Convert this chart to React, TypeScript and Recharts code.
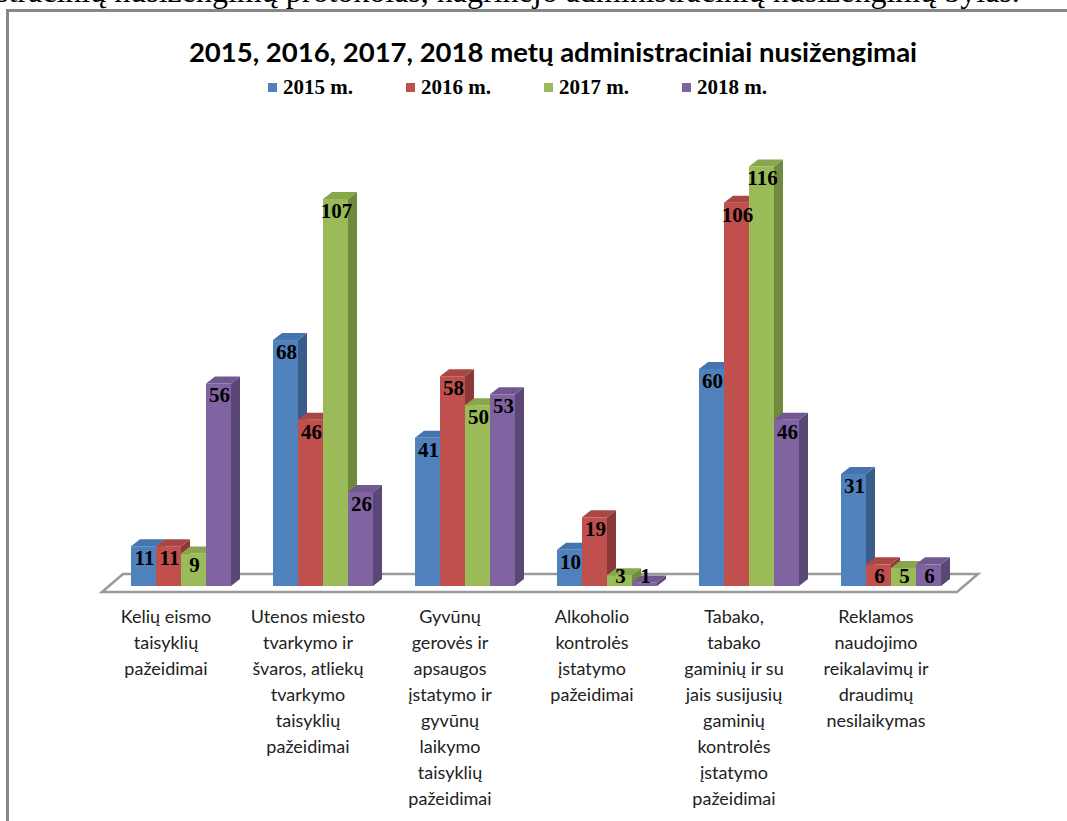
import { Bar, BarChart, XAxis, YAxis } from "recharts";

const categories = [
  "Kelių eismo\ntaisyklių\npažeidimai",
  "Utenos miesto\ntvarkymo ir\nšvaros, atliekų\ntvarkymo\ntaisyklių\npažeidimai",
  "Gyvūnų\ngerovės ir\napsaugos\nįstatymo ir\ngyvūnų\nlaikymo\ntaisyklių\npažeidimai",
  "Alkoholio\nkontrolės\nįstatymo\npažeidimai",
  "Tabako,\ntabako\ngaminių ir su\njais susijusių\ngaminių\nkontrolės\nįstatymo\npažeidimai",
  "Reklamos\nnaudojimo\nreikalavimų ir\ndraudimų\nnesilaikymas",
];

const v2015 = [11, 68, 41, 10, 60, 31];
const v2016 = [11, 46, 58, 19, 106, 6];
const v2017 = [9, 107, 50, 3, 116, 5];
const v2018 = [56, 26, 53, 1, 46, 6];

const SERIES = [
  { key: "y2015", label: "2015 m.", front: "#4F81BD", top: "#4674AE", side: "#385D8A" },
  { key: "y2016", label: "2016 m.", front: "#C0504D", top: "#A94744", side: "#8C3836" },
  { key: "y2017", label: "2017 m.", front: "#9BBB59", top: "#88A64C", side: "#71893F" },
  { key: "y2018", label: "2018 m.", front: "#8064A2", top: "#715891", side: "#5B4776" },
];

const data = categories.map((name, i) => ({
  name,
  y2015: v2015[i],
  y2016: v2016[i],
  y2017: v2017[i],
  y2018: v2018[i],
}));

const W = 1067;
const H = 821;
const PLOT_LEFT = 110;
const PLOT_RIGHT = 962;
const PLOT_TOP = 152;
const PLOT_BOTTOM = 586;
const AXIS_H = 230;
const DX = 9;
const DY = 7;

function Bar3D(props: any) {
  const { x, y, width, height, front, top, side } = props;
  if (!width || height == null) return null;
  return (
    <g>
      <polygon
        points={`${x + width},${y} ${x + width + DX},${y - DY} ${x + width + DX},${y + height - DY} ${x + width},${y + height}`}
        fill={side}
      />
      <polygon
        points={`${x},${y} ${x + DX},${y - DY} ${x + width + DX},${y - DY} ${x + width},${y}`}
        fill={top}
      />
      <rect x={x} y={y} width={width} height={height} fill={front} />
    </g>
  );
}

function BarLabel(props: any) {
  const { x, y, width, height, value } = props;
  const cy = Math.min(y + 12, y + height - 10);
  return (
    <text
      x={x + width / 2 + 1}
      y={cy}
      textAnchor="middle"
      dominantBaseline="central"
      fontFamily="'Liberation Serif', 'Times New Roman', serif"
      fontWeight="bold"
      fontSize={21}
      fill="#000"
    >
      {value}
    </text>
  );
}

function CatTick(props: any) {
  const { x, y, payload } = props;
  const lines = String(payload.value).split("\n");
  return (
    <text
      x={x - 15}
      y={y + 29}
      textAnchor="middle"
      fontFamily="Lato, 'Open Sans', sans-serif"
      fontSize={18}
      fill="#222"
    >
      {lines.map((l, i) => (
        <tspan key={i} x={x - 15} dy={i === 0 ? 0 : 26}>
          {l}
        </tspan>
      ))}
    </text>
  );
}

export default function App() {
  const floor = [
    [PLOT_LEFT - 8, PLOT_BOTTOM + 6],
    [PLOT_LEFT + 13, PLOT_BOTTOM - 12],
    [PLOT_RIGHT + 16, PLOT_BOTTOM - 12],
    [PLOT_RIGHT - 5, PLOT_BOTTOM + 6],
  ]
    .map((p) => p.join(","))
    .join(" ");

  return (
    <div
      style={{
        position: "absolute",
        left: 0,
        top: 0,
        width: W,
        height: H,
        overflow: "hidden",
        background: "#fff",
      }}
    >
      <div
        style={{
          position: "absolute",
          left: -4,
          top: -27,
          whiteSpace: "nowrap",
          fontFamily: "'Liberation Serif', 'Times New Roman', serif",
          fontSize: 32,
          lineHeight: "36px",
          color: "#000",
        }}
      >
        stracinių nusižengimų protokolas, nagrinėjo administracinių nusižengimų bylas.
      </div>
      <div
        style={{
          position: "absolute",
          left: 6,
          top: 9,
          width: 1200,
          height: 1000,
          borderLeft: "3px solid #878787",
          borderTop: "3px solid #878787",
        }}
      />
      <div
        style={{
          position: "absolute",
          left: 0,
          top: 36,
          width: 1106,
          textAlign: "center",
          fontFamily: "Lato, 'Open Sans', sans-serif",
          fontWeight: "bold",
          fontSize: 27.5,
          lineHeight: "32px",
          color: "#000",
        }}
      >
        2015, 2016, 2017, 2018 metų administraciniai nusižengimai
      </div>
      {SERIES.map((s, i) => (
        <div
          key={s.key}
          style={{
            position: "absolute",
            left: 268 + i * 138,
            top: 75,
            height: 24,
            display: "flex",
            alignItems: "center",
            fontFamily: "'Liberation Serif', 'Times New Roman', serif",
            fontWeight: "bold",
            fontSize: 21,
            color: "#000",
          }}
        >
          <span
            style={{
              display: "inline-block",
              width: 9,
              height: 9,
              background: s.front,
              marginRight: 6,
            }}
          />
          {s.label}
        </div>
      ))}
      <svg
        width={W}
        height={H}
        style={{ position: "absolute", left: 0, top: 0 }}
      >
        <polygon points={floor} fill="#fff" stroke="#9A9A9A" strokeWidth={2.5} />
      </svg>
      <div style={{ position: "absolute", left: 0, top: 0 }}>
        <BarChart
          width={W}
          height={H}
          data={data}
          margin={{
            top: PLOT_TOP,
            left: PLOT_LEFT,
            right: W - PLOT_RIGHT,
            bottom: H - PLOT_BOTTOM - AXIS_H,
          }}
          barSize={25}
          barGap={0}
        >
          <XAxis
            dataKey="name"
            axisLine={false}
            tickLine={false}
            interval={0}
            height={AXIS_H}
            tick={<CatTick />}
          />
          <YAxis hide domain={[0, 120]} />
          {SERIES.map((s) => (
            <Bar
              key={s.key}
              dataKey={s.key}
              isAnimationActive={false}
              fill={s.front}
              shape={(p: any) => (
                <Bar3D {...p} front={s.front} top={s.top} side={s.side} />
              )}
              label={(p: any) => <BarLabel {...p} />}
            />
          ))}
        </BarChart>
      </div>
    </div>
  );
}
